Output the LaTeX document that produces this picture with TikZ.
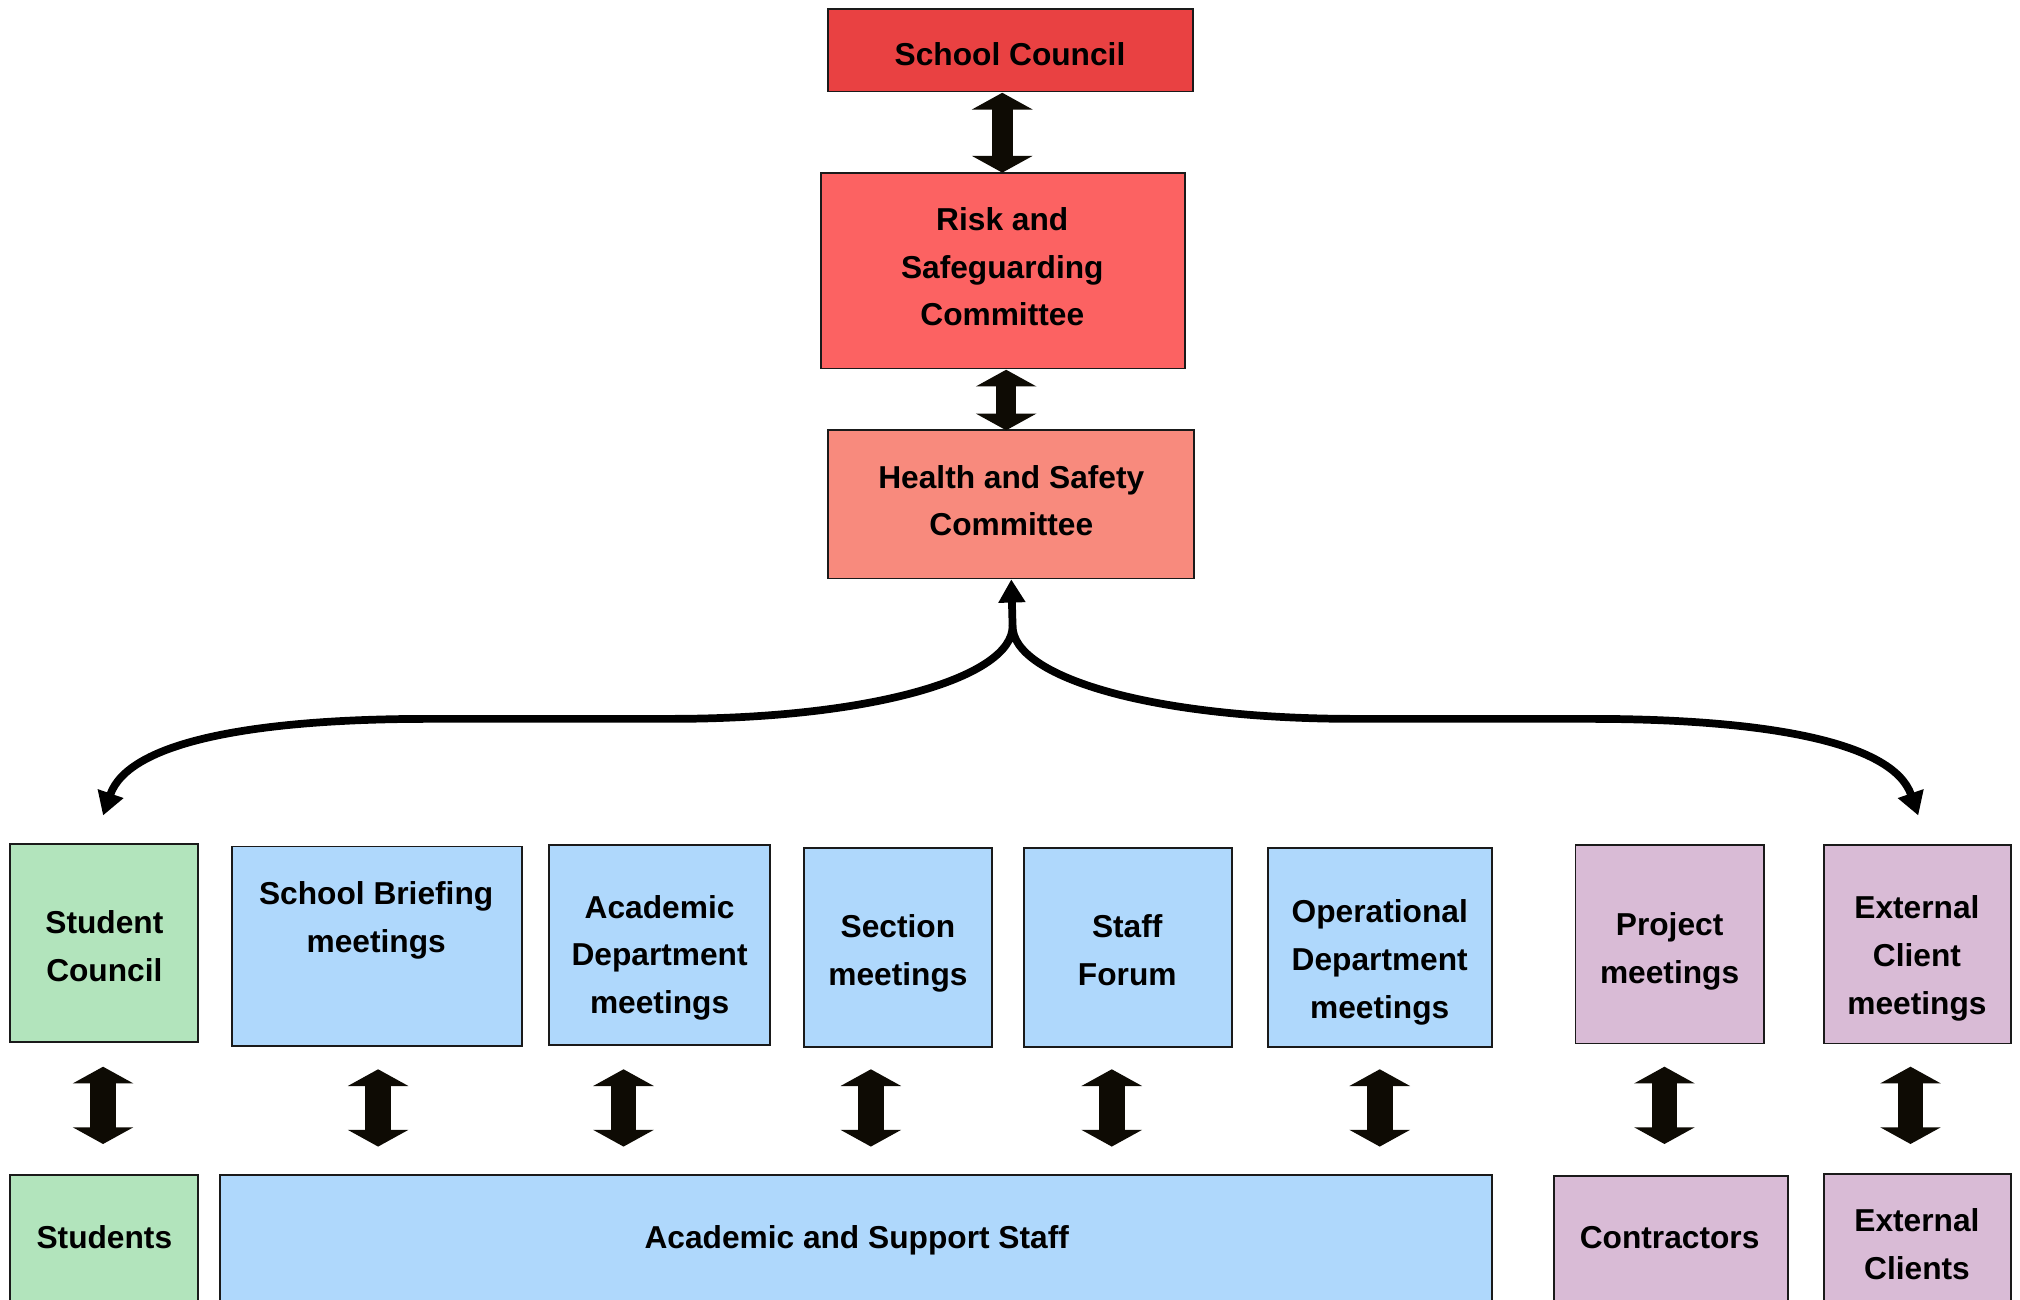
\documentclass[tikz,border=0pt]{standalone}
\usepackage{fontspec}
\setmainfont{Liberation Sans}
\usetikzlibrary{arrows.meta,fit}
\definecolor{scfill}{HTML}{E94142}
\definecolor{riskfill}{HTML}{FC6262}
\definecolor{hsfill}{HTML}{F88A7D}
\definecolor{greenfill}{HTML}{B2E4BC}
\definecolor{bluefill}{HTML}{AFD8FC}
\definecolor{purplefill}{HTML}{D9BBD6}
\definecolor{boxline}{HTML}{1A1A1A}
\definecolor{arrowfill}{HTML}{0E0B04}
\begin{document}
\begin{tikzpicture}[x=0.5pt,y=-0.5pt,
  box/.style={draw=boxline, line width=0.7pt, inner sep=0pt},
  txt/.style={align=center, inner sep=0pt, text=black,
    font=\fontsize{12.3pt}{18.5pt}\selectfont\bfseries},
  blkhead/.style={draw=arrowfill, line width=#1,
    {Triangle[length=6.5pt,width=23.3pt]}-{Triangle[length=6.5pt,width=23.3pt]}},
  conn/.style={draw=black, line width=3pt, line join=round},
  tipA/.tip={Triangle[length=9pt,width=10pt]}]
\clip (0,0) rectangle (1568,1009);
\fill[white] (0,0) rectangle (1568,1009);

% top boxes
\node[box, fill=scfill, fit={(643,7) (926,71)}] (sc) {};
\node[txt] (sc-t) at (784,42) {School Council};
\node[box, fill=riskfill, fit={(637,134) (920,286)}] (risk) {};
\node[txt] (risk-t) at (778,207) {Risk and\\Safeguarding\\Committee};
\node[box, fill=hsfill, fit={(643,334) (927,449)}] (hs) {};
\node[txt] (hs-t) at (785,388.5) {Health and Safety\\Committee};

% middle row
\node[box, fill=greenfill, fit={(8,655) (154,809)}] (stc) {};
\node[txt] (stc-t) at (81,734.5) {Student\\Council};
\node[box, fill=bluefill, fit={(180,657) (405,812)}] (sb) {};
\node[txt] (sb-t) at (292,714.5) {School Briefing\\meetings};
\node[box, fill=bluefill, fit={(426,656) (598,811)}] (ad) {};
\node[txt] (ad-t) at (512,743.5) {Academic\\Department\\meetings};
\node[box, fill=bluefill, fit={(624,658) (770,813)}] (sec) {};
\node[txt] (sec-t) at (697,740) {Section\\meetings};
\node[box, fill=bluefill, fit={(795,658) (956,813)}] (sf) {};
\node[txt] (sf-t) at (875,737.5) {Staff\\Forum};
\node[box, fill=bluefill, fit={(984,658) (1158,813)}] (od) {};
\node[txt] (od-t) at (1071,747) {Operational\\Department\\meetings};
\node[box, fill=purplefill, fit={(1223,656) (1369,810)}] (pm) {};
\node[txt] (pm-t) at (1296,738.5) {Project\\meetings};
\node[box, fill=purplefill, fit={(1416,656) (1561,810)}] (ec) {};
\node[txt] (ec-t) at (1488,744) {External\\Client\\meetings};

% bottom row
\node[box, fill=greenfill, fit={(8,912) (154,1040)}] (st) {};
\node[txt] (st-t) at (81,960) {Students};
\node[box, fill=bluefill, fit={(171,912) (1158,1040)}] (ass) {};
\node[txt] (ass-t) at (665,963) {Academic and Support Staff};
\node[box, fill=purplefill, fit={(1206,913) (1388,1040)}] (con) {};
\node[txt] (con-t) at (1296,961) {Contractors};
\node[box, fill=purplefill, fit={(1416,911) (1561,1040)}] (exc) {};
\node[txt] (exc-t) at (1488,965.5) {External\\Clients};

% block double arrows
\coordinate (a1t) at (778,72);  \coordinate (a1b) at (778,134);
\coordinate (a2t) at (781,287); \coordinate (a2b) at (781,334);
\draw[blkhead=8pt] (a1t) -- (a1b);
\draw[blkhead=8pt] (a2t) -- (a2b);
\foreach \n/\x/\ya/\yb in {b1/80/828/888, b2/293.5/830/890, b3/484/830/890,
    b4/676/830/890, b5/863/830/890, b6/1071/830/890, b7/1292/828/888, b8/1483/828/888}{
  \coordinate (\n t) at (\x,\ya);
  \coordinate (\n b) at (\x,\yb);
  \draw[blkhead=10pt] (\n t) -- (\n b);
}

% curved connector
\coordinate (jn) at (786,486);
\coordinate (ltip) at (80,633);
\coordinate (rtip) at (1489,633);
\draw[conn, -{tipA}] (jn) -- (hs.south);
\draw[conn, {tipA}-{tipA}] (ltip) .. controls (100,575) and (200,558) .. (333,558)
  -- (520,558) .. controls (680,558) and (786,525) .. (jn)
  .. controls (786,525) and (892,558) .. (1052,558)
  -- (1234,558) .. controls (1367,558) and (1469,575) .. (rtip);
\end{tikzpicture}
\end{document}
